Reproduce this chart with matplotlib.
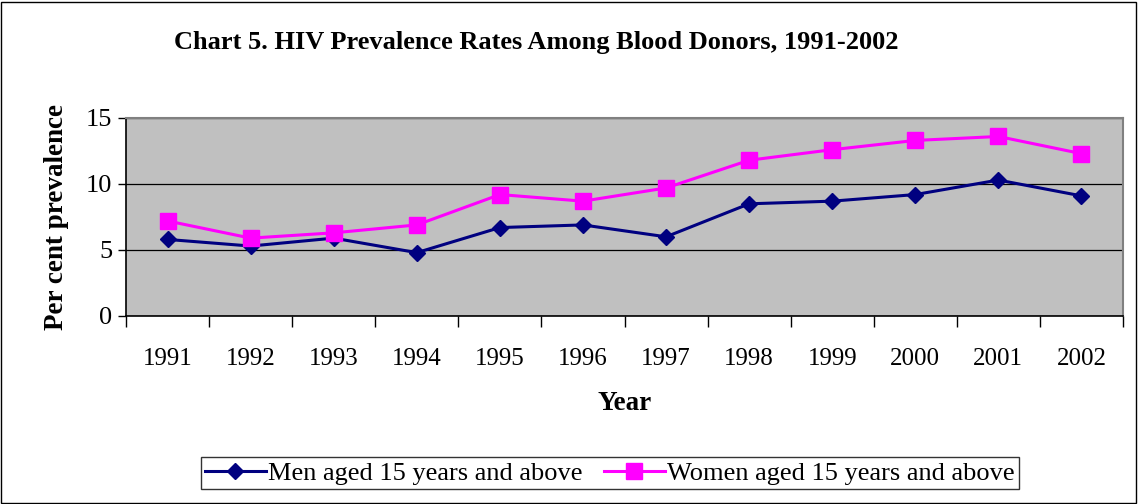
import matplotlib
matplotlib.use("Agg")
import matplotlib.pyplot as plt
from matplotlib.patches import Rectangle

plt.rcParams["font.family"] = ["Liberation Serif", "DejaVu Serif"]

years = ["1991", "1992", "1993", "1994", "1995", "1996",
         "1997", "1998", "1999", "2000", "2001", "2002"]
men = [5.8, 5.3, 5.9, 4.8, 6.7, 6.9, 6.0, 8.5, 8.7, 9.2, 10.3, 9.1]
women = [7.2, 5.9, 6.3, 6.9, 9.2, 8.7, 9.7, 11.8, 12.6, 13.3, 13.6, 12.3]

W, H = 1138, 504
fig = plt.figure(figsize=(W / 100, H / 100), dpi=100)
fig.patch.set_facecolor("white")
fig.add_artist(Rectangle((1 / W, 1 / H), 1 - 3 / W, 1 - 3 / H, transform=fig.transFigure,
                         fill=False, edgecolor="black", linewidth=1))

left, right, top, bottom = 126, 1123, 118, 316
ax = fig.add_axes([left / W, 1 - bottom / H, (right - left) / W, (bottom - top) / H])
ax.set_facecolor("#C0C0C0")

x = list(range(len(years)))
ax.plot(x, men, color="#000080", marker="D", markersize=8.5, linewidth=2.2,
        label="Men aged 15 years and above")
ax.plot(x, women, color="#FF00FF", marker="s", markersize=11.5, linewidth=2.2,
        label="Women aged 15 years and above")

ax.set_xlim(-0.5, len(years) - 0.5)
ax.set_ylim(0, 15)
ax.set_yticks([0, 5, 10, 15])
ax.set_yticklabels(["0", "5", "10", "15"], fontsize=19)
ax.yaxis.grid(True, color="black", linewidth=0.9)
ax.set_axisbelow(True)
ax.tick_params(axis="y", direction="out", length=6, width=1, pad=4)

ax.set_xticks(x)
ax.set_xticklabels(years, fontsize=18)
ax.set_xticks([i - 0.5 for i in range(len(years) + 1)], minor=True)
ax.tick_params(axis="x", which="major", length=0, pad=23)
ax.tick_params(axis="x", which="minor", direction="out", length=8, width=1)

for side in ["top", "right"]:
    ax.spines[side].set_color("#808080")
    ax.spines[side].set_linewidth(1.5)
for side in ["left", "bottom"]:
    ax.spines[side].set_color("black")
    ax.spines[side].set_linewidth(1.2)

ax.set_xlabel("Year", fontsize=19.5, fontweight="bold", labelpad=15)
ax.set_ylabel("Per cent prevalence", fontsize=19.5, fontweight="bold", labelpad=12)

fig.text(536 / W, 1 - 42 / H, "Chart 5. HIV Prevalence Rates Among Blood Donors, 1991-2002",
         ha="center", va="center", fontsize=19, fontweight="bold")

leg = fig.legend(loc="center", bbox_to_anchor=(610 / W, 1 - 473 / H), ncol=2,
                 fontsize=19, frameon=True, fancybox=False, edgecolor="black",
                 handlelength=2.3, columnspacing=0.8, handletextpad=0.1,
                 borderpad=0.15, borderaxespad=0)
leg.get_frame().set_linewidth(1)

fig.savefig("out.png", dpi=100)
